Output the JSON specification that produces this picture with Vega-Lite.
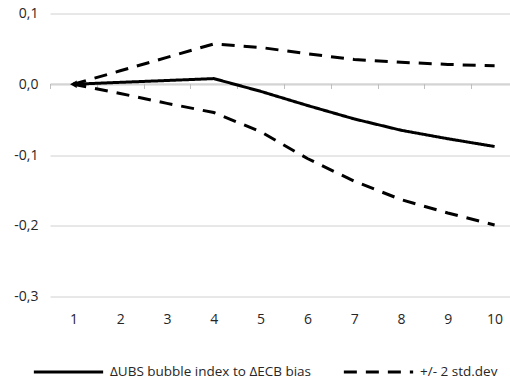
{
  "$schema": "https://vega.github.io/schema/vega-lite/v6.json",
  "width": 468,
  "height": 283,
  "autosize": {"type": "none"},
  "padding": {"left": 50, "top": 13.5, "right": 0, "bottom": 82.5},
  "config": {"view": {"stroke": null}, "font": "Open Sans"},
  "data": {
    "values": [
      {"t": 1, "v": 0, "line": "main", "series": "ΔUBS bubble index to ΔECB bias"},
      {"t": 2, "v": 0.0027, "line": "main", "series": "ΔUBS bubble index to ΔECB bias"},
      {"t": 3, "v": 0.0053, "line": "main", "series": "ΔUBS bubble index to ΔECB bias"},
      {"t": 4, "v": 0.008, "line": "main", "series": "ΔUBS bubble index to ΔECB bias"},
      {"t": 5, "v": -0.01, "line": "main", "series": "ΔUBS bubble index to ΔECB bias"},
      {"t": 6, "v": -0.03, "line": "main", "series": "ΔUBS bubble index to ΔECB bias"},
      {"t": 7, "v": -0.049, "line": "main", "series": "ΔUBS bubble index to ΔECB bias"},
      {"t": 8, "v": -0.065, "line": "main", "series": "ΔUBS bubble index to ΔECB bias"},
      {"t": 9, "v": -0.077, "line": "main", "series": "ΔUBS bubble index to ΔECB bias"},
      {"t": 10, "v": -0.088, "line": "main", "series": "ΔUBS bubble index to ΔECB bias"},
      {"t": 1, "v": 0, "line": "upper", "series": "+/- 2 std.dev"},
      {"t": 2, "v": 0.019, "line": "upper", "series": "+/- 2 std.dev"},
      {"t": 3, "v": 0.038, "line": "upper", "series": "+/- 2 std.dev"},
      {"t": 4, "v": 0.057, "line": "upper", "series": "+/- 2 std.dev"},
      {"t": 5, "v": 0.052, "line": "upper", "series": "+/- 2 std.dev"},
      {"t": 6, "v": 0.043, "line": "upper", "series": "+/- 2 std.dev"},
      {"t": 7, "v": 0.035, "line": "upper", "series": "+/- 2 std.dev"},
      {"t": 8, "v": 0.031, "line": "upper", "series": "+/- 2 std.dev"},
      {"t": 9, "v": 0.028, "line": "upper", "series": "+/- 2 std.dev"},
      {"t": 10, "v": 0.026, "line": "upper", "series": "+/- 2 std.dev"},
      {"t": 1, "v": 0, "line": "lower", "series": "+/- 2 std.dev"},
      {"t": 2, "v": -0.013, "line": "lower", "series": "+/- 2 std.dev"},
      {"t": 3, "v": -0.027, "line": "lower", "series": "+/- 2 std.dev"},
      {"t": 4, "v": -0.04, "line": "lower", "series": "+/- 2 std.dev"},
      {"t": 5, "v": -0.067, "line": "lower", "series": "+/- 2 std.dev"},
      {"t": 6, "v": -0.105, "line": "lower", "series": "+/- 2 std.dev"},
      {"t": 7, "v": -0.137, "line": "lower", "series": "+/- 2 std.dev"},
      {"t": 8, "v": -0.163, "line": "lower", "series": "+/- 2 std.dev"},
      {"t": 9, "v": -0.182, "line": "lower", "series": "+/- 2 std.dev"},
      {"t": 10, "v": -0.199, "line": "lower", "series": "+/- 2 std.dev"}
    ]
  },
  "layer": [
    {
      "mark": {"type": "line", "strokeWidth": 3, "color": "black", "strokeCap": "butt"},
      "encoding": {
        "x": {
          "field": "t",
          "type": "ordinal",
          "bandPosition": 0.5,
          "scale": {"type": "band", "paddingInner": 0, "paddingOuter": 0},
          "axis": {
            "title": null,
            "offset": -213,
            "domainColor": "#BFBFBF",
            "domainWidth": 1,
            "tickColor": "#BFBFBF",
            "tickSize": 5,
            "tickBand": "extent",
            "labelAngle": 0,
            "labelPadding": 224,
            "labelFontSize": 14,
            "labelColor": "#262626"
          }
        },
        "y": {
          "field": "v",
          "type": "quantitative",
          "scale": {"domain": [-0.3, 0.1], "nice": false, "zero": false},
          "axis": {
            "title": null,
            "values": [-0.3, -0.2, -0.1, 0, 0.1],
            "domain": false,
            "ticks": false,
            "gridColor": "#D0D0D0",
            "labelPadding": 12,
            "labelFontSize": 14,
            "labelColor": "#262626",
            "labelExpr": "replace(replace(format(datum.value, '.1f'), '.', ','), '−', '-')"
          }
        },
        "strokeDash": {
          "field": "series",
          "type": "nominal",
          "scale": {
            "domain": ["ΔUBS bubble index to ΔECB bias", "+/- 2 std.dev"],
            "range": [[1, 0], [13, 9]]
          },
          "legend": {
            "title": null,
            "orient": "none",
            "legendX": -18,
            "legendY": 322,
            "direction": "horizontal",
            "symbolType": "stroke",
            "symbolSize": 4800,
            "symbolStrokeWidth": 3,
            "symbolStrokeColor": "black",
            "labelFontSize": 13.5,
            "labelColor": "#262626",
            "labelOffset": 5,
            "labelLimit": 300,
            "columnPadding": 25
          }
        },
        "detail": {"field": "line"}
      }
    },
    {
      "transform": [{"filter": "datum.line === 'main' && datum.t === 1"}],
      "mark": {"type": "point", "shape": "triangle-left", "filled": true, "color": "black", "size": 60, "opacity": 1},
      "encoding": {
        "x": {"field": "t", "type": "ordinal", "bandPosition": 0.5},
        "y": {"field": "v", "type": "quantitative"}
      }
    }
  ]
}
